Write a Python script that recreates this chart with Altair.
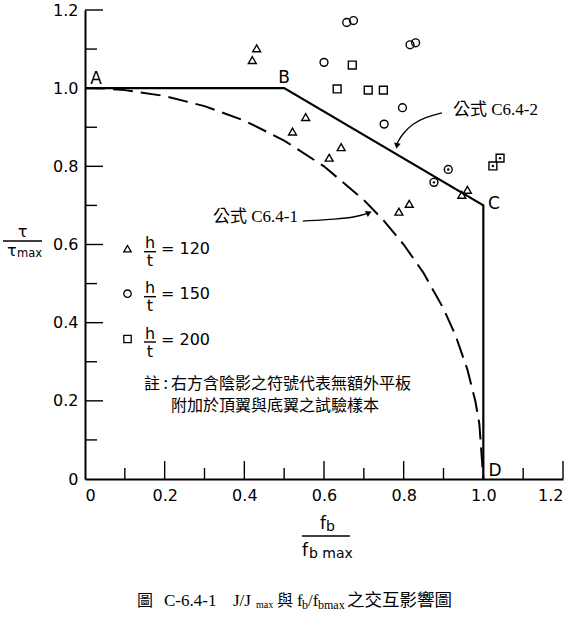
import altair as alt
import pandas as pd

# ---------------- data ----------------
ht_values = ["120", "150", "200"]          # h/t series
tri_fb  = [0.431, 0.420, 0.554, 0.521, 0.643, 0.613, 0.814, 0.788, 0.960, 0.946]
tri_tau = [1.102, 1.072, 0.926, 0.889, 0.849, 0.822, 0.704, 0.684, 0.740, 0.727]
cir_fb  = [0.657, 0.674, 0.816, 0.830, 0.600, 0.797, 0.751, 0.912, 0.876]
cir_tau = [1.168, 1.173, 1.111, 1.116, 1.066, 0.950, 0.908, 0.792, 0.759]
sq_fb   = [0.671, 0.633, 0.711, 0.749, 1.024, 1.042]
sq_tau  = [1.059, 0.998, 0.995, 0.995, 0.801, 0.821]
shaded_fb  = [0.912, 0.876, 1.024, 1.042]
shaded_tau = [0.792, 0.759, 0.801, 0.821]

# formula C6.4-2 (solid A-B-C-D)
line_fb  = [0.0, 0.5, 1.0, 1.0]
line_tau = [1.0, 1.0, 0.7, 0.0]
# formula C6.4-1 (dashed)
curve_fb  = [0.0, 0.05, 0.1, 0.2, 0.3, 0.4, 0.5, 0.6, 0.7, 0.75, 0.8, 0.85, 0.9, 0.93, 0.96, 0.98, 0.99, 1.0]
curve_tau = [1.0, 0.999, 0.995, 0.98, 0.954, 0.917, 0.866, 0.8, 0.714, 0.661, 0.6, 0.527, 0.436, 0.368, 0.28, 0.199, 0.141, 0.0]

# annotation arrows
arrow2_fb  = [0.896, 0.854, 0.821, 0.799, 0.783, 0.783]
arrow2_tau = [0.937, 0.926, 0.908, 0.885, 0.860, 0.852]
arrow1_fb  = [0.547, 0.633, 0.678, 0.713]
arrow1_tau = [0.660, 0.665, 0.670, 0.681]

tick_values = [0, 0.2, 0.4, 0.6, 0.8, 1.0, 1.2]
major_ticks = [0.2, 0.4, 0.6, 0.8, 1.0, 1.2]
minor_ticks = [0.1, 0.3, 0.5, 0.7, 0.9, 1.1]

legend_labels = ["= 120", "= 150", "= 200"]
label_A, label_B, label_C, label_D = "A", "B", "C", "D"
eq1_text = "公式 C6.4-1"
eq2_text = "公式 C6.4-2"
note_prefix = "註 :"
note_line1 = "右方含陰影之符號代表無額外平板"
note_line2 = "附加於頂翼與底翼之試驗樣本"

# ---------------- layout ----------------
W, H = 478, 469
L, T = 85, 10
SANS = "DejaVu Sans"
SERIF = "'Liberation Serif', 'Noto Sans CJK TC'"
CJK = "'Noto Sans CJK TC'"

one = pd.DataFrame({"a": [0]})


def px(x):
    return alt.value(x - L)


def py(y):
    return alt.value(y - T)


def text(s, x, y, size=16, font=SANS, align="left", baseline="middle"):
    return alt.Chart(one).mark_text(
        text=s, fontSize=size, font=font, align=align, baseline=baseline, color="black"
    ).encode(x=px(x), y=py(y))


def hbar(x1, x2, y, w=1.3):
    return alt.Chart(one).mark_rule(color="black", strokeWidth=w).encode(
        x=px(x1), x2=px(x2), y=py(y)
    )


xs = alt.Scale(domain=[0, 1.2], nice=False, zero=False)
ys = alt.Scale(domain=[0, 1.2], nice=False, zero=False)
label_expr = "datum.value == 0 ? '0' : format(datum.value, '.1f')"
common_axis = dict(values=tick_values, labelExpr=label_expr, title=None, ticks=False,
                   tickSize=0, grid=False, domainColor="black", domainWidth=2,
                   labelFont=SANS, labelFontSize=16, labelColor="black")
xaxis = alt.Axis(labelPadding=8, **common_axis)
yaxis = alt.Axis(labelPadding=7, **common_axis)


def X(f):
    return alt.X(f, type="quantitative", scale=xs, axis=xaxis)


def Y(f):
    return alt.Y(f, type="quantitative", scale=ys, axis=yaxis)


layers = []

# ticks (inward)
maj = pd.DataFrame({"v": major_ticks})
mnr = pd.DataFrame({"v": minor_ticks})
layers.append(alt.Chart(maj).mark_rule(color="black", strokeWidth=1.4).encode(
    x=X("v"), y=alt.value(H), y2=alt.value(H - 18)))
layers.append(alt.Chart(mnr).mark_rule(color="black", strokeWidth=1.4).encode(
    x=X("v"), y=alt.value(H), y2=alt.value(H - 11)))
layers.append(alt.Chart(maj).mark_rule(color="black", strokeWidth=1.4).encode(
    y=Y("v"), x=alt.value(0), x2=alt.value(18)))
layers.append(alt.Chart(mnr).mark_rule(color="black", strokeWidth=1.4).encode(
    y=Y("v"), x=alt.value(0), x2=alt.value(12)))

# solid line A-B-C-D
ldf = pd.DataFrame({"fb": line_fb, "tau": line_tau, "i": range(len(line_fb))})
layers.append(alt.Chart(ldf).mark_line(color="black", strokeWidth=2.2).encode(
    x=X("fb"), y=Y("tau"), order="i:Q"))

# dashed curve
cdf = pd.DataFrame({"fb": curve_fb, "tau": curve_tau, "i": range(len(curve_fb))})
layers.append(alt.Chart(cdf).mark_line(color="black", strokeWidth=2, strokeDash=[20, 8]).encode(
    x=X("fb"), y=Y("tau"), order="i:Q"))

# data points
pts = pd.DataFrame({
    "fb": tri_fb + cir_fb + sq_fb,
    "tau": tri_tau + cir_tau + sq_tau,
    "ht": [ht_values[0]] * len(tri_fb) + [ht_values[1]] * len(cir_fb) + [ht_values[2]] * len(sq_fb),
})
shape_range = ["triangle-up", "circle", "square"]
shape_scale = alt.Scale(domain=ht_values, range=shape_range)
layers.append(alt.Chart(pts).mark_point(filled=False, color="black", size=62, strokeWidth=1.4, opacity=1).encode(
    x=X("fb"), y=Y("tau"), shape=alt.Shape("ht:N", scale=shape_scale, legend=None)))
sdf = pd.DataFrame({"fb": shaded_fb, "tau": shaded_tau})
layers.append(alt.Chart(sdf).mark_point(filled=True, color="black", size=6, opacity=1).encode(
    x=X("fb"), y=Y("tau")))

# arrows
a2 = pd.DataFrame({"fb": arrow2_fb, "tau": arrow2_tau, "i": range(len(arrow2_fb))})
layers.append(alt.Chart(a2).mark_line(color="black", strokeWidth=1.3, interpolate="basis").encode(
    x=X("fb"), y=Y("tau"), order="i:Q"))
layers.append(alt.Chart(a2.tail(1)).mark_point(shape="triangle-down", filled=True, color="black",
                                               size=45, angle=10, opacity=1).encode(x=X("fb"), y=Y("tau")))
a1 = pd.DataFrame({"fb": arrow1_fb, "tau": arrow1_tau, "i": range(len(arrow1_fb))})
layers.append(alt.Chart(a1).mark_line(color="black", strokeWidth=1.3, interpolate="basis").encode(
    x=X("fb"), y=Y("tau"), order="i:Q"))
layers.append(alt.Chart(a1.tail(1)).mark_point(shape="triangle-right", filled=True, color="black",
                                               size=45, angle=335, opacity=1).encode(x=X("fb"), y=Y("tau")))

# corner letters
layers += [
    text(label_A, 96, 79, 17, align="center"),
    text(label_B, 284, 78, 17, align="center"),
    text(label_C, 494, 204, 17, align="center"),
    text(label_D, 495, 471, 17, align="center"),
]

# equation labels
layers += [
    text(eq2_text, 453, 110, 17, font=SERIF),
    text(eq1_text, 213, 217, 17, font=SERIF),
]

# manual legend
bar_ys = [251.7, 296.7, 342.0]
for k, yb in enumerate(bar_ys):
    layers.append(alt.Chart(one).mark_point(shape=shape_range[k], filled=False, color="black",
                                            size=55, strokeWidth=1.3, opacity=1).encode(
        x=px(127.5), y=py(yb - 3)))
    layers.append(text("h", 150, yb - 8.5, 16, align="center"))
    layers.append(hbar(144, 156, yb, 1.4))
    layers.append(text("t", 150, yb + 9.5, 16, align="center"))
    layers.append(text(legend_labels[k], 161, yb - 2.5, 16))

# note
layers += [
    text(note_prefix, 168, 384, 16, font=CJK, align="right"),
    text(note_line1, 171, 384, 16, font=CJK),
    text(note_line2, 171, 406, 16, font=CJK),
]

# y-axis title  tau / tau_max
layers += [
    text("τ", 22.5, 232, 16, align="center"),
    hbar(3, 42, 241, 1.4),
    text("τ", 7, 251, 16),
    text("max", 17, 254, 11.5),
]

# x-axis title  f_b / f_b max
layers += [
    text("f", 320, 524, 17),
    text("b", 326, 527, 14),
    hbar(302, 350, 536, 1.6),
    text("f", 302, 551, 17),
    text("b max", 309, 554, 14),
]

# caption
CY = 601
layers += [
    text("圖", 137, CY, 16, font=CJK),
    text("C-6.4-1", 164, CY, 17, font=SERIF),
    text("J/J", 233, CY, 17, font=SERIF),
    text("max", 256, CY + 4, 10, font=SERIF),
    text("與", 277, CY, 16, font=CJK),
    text("f", 297, CY, 17, font=SERIF),
    text("b", 302, CY + 4, 12, font=SERIF),
    text("/f", 308, CY, 17, font=SERIF),
    text("bmax", 318, CY + 4, 12, font=SERIF),
    text("之交互影響圖", 347, CY, 17.5, font=CJK),
]

chart = alt.layer(*layers).properties(
    width=W, height=H,
    autosize=alt.AutoSizeParams(type="none"),
    padding={"left": L, "top": T, "right": 580 - L - W, "bottom": 619 - T - H},
).configure_view(stroke=None)

chart.save("out.html", embed_options={"renderer": "svg", "actions": False})
